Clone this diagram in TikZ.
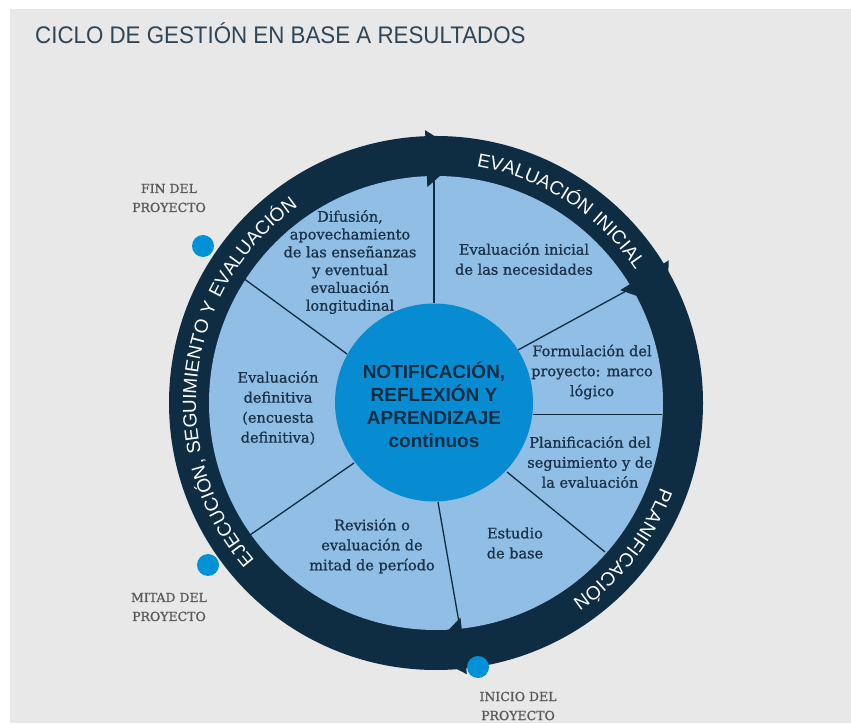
\documentclass[tikz,border=0pt]{standalone}
\usepackage{fontspec}
\usetikzlibrary{decorations.text}
\setmainfont{DejaVu Serif}
\newfontfamily\myserif{DejaVu Serif}[FakeBold=1.0]
\newfontfamily\mysans{Liberation Sans}
\newfontfamily\myringsans{Liberation Sans}[LetterSpace=4]
\newfontfamily\mytitlefont[FakeStretch=0.93]{Liberation Sans}
\newcommand\myringfont{\myringsans\fontsize{19}{19}\selectfont\color{white}}
\definecolor{bggray}{HTML}{E8E8E8}
\definecolor{navy}{HTML}{0E2D43}
\definecolor{lightblue}{HTML}{90BEE5}
\definecolor{midblue}{HTML}{078CD2}
\definecolor{dotblue}{HTML}{0091D6}
\definecolor{textnavy}{HTML}{1A3249}
\definecolor{labelgray}{HTML}{5A5A5A}
\definecolor{titlecol}{HTML}{2E4658}
\begin{document}
\begin{tikzpicture}[x=1pt,y=1pt,
  sector/.style={align=center, text=textnavy, font=\myserif\fontsize{14.5}{20}\selectfont, inner sep=0pt},
  milestone/.style={align=center, text=labelgray, font=\myserif\fontsize{12.5}{19}\selectfont, inner sep=0pt},
  spoke/.style={draw=navy, line width=1.3pt},
  dot/.style={circle, fill=dotblue, minimum size=22pt, inner sep=0pt},
  barb/.style={fill=navy}
]
\useasboundingbox (0,0) rectangle (851,723);
\fill[bggray] (10,0) rectangle (851,714);

\node[anchor=base west, inner sep=0pt, text=titlecol, font=\mytitlefont\fontsize{24}{24}\selectfont] (title) at (35,679) {CICLO DE GESTIÓN EN BASE A RESULTADOS};

% ring and disc
\coordinate (C) at (436,320);
\fill[navy] (C) circle (267);
\fill[lightblue] (C) circle (227);

% spokes
\coordinate (s1a) at (434,420); \coordinate (s1b) at (434,547);
\coordinate (s2a) at (518,373); \coordinate (s2b) at (628,433);
\coordinate (s3a) at (533,308.5); \coordinate (s3b) at (662,308.5);
\coordinate (s4a) at (507,251); \coordinate (s4b) at (605,171);
\coordinate (s5a) at (438,221); \coordinate (s5b) at (460,95);
\coordinate (s6a) at (354,260); \coordinate (s6b) at (250,188);
\coordinate (s7a) at (347,369); \coordinate (s7b) at (243,445);
\foreach \i in {1,...,7} { \draw[spoke] (s\i a) -- (s\i b); }

% arrow barbs and ring labels
\begin{scope}[shift={(C)}]
  \foreach \t in {92.3,31.5,-83.5} {
    \fill[barb] (\t:229) -- (\t:216) -- (\t-3.8:229) -- cycle;
    \fill[barb] (\t:265) -- (\t:273) -- (\t-2.7:265) -- cycle;
  }
  \path[decorate, decoration={text along path, text align=center,
      text={|\myringfont|EVALUACIÓN INICIAL}}]
      (83:240) arc[start angle=83, end angle=31, radius=240];
  \path[decorate, decoration={text along path, text align=center,
      text={|\myringfont|PLANIFICACIÓN}}]
      (-16:240) arc[start angle=-16, end angle=-60, radius=240];
  \path[decorate, decoration={text along path, text align=center,
      text={|\myringfont|EJECUCIÓN{,} SEGUIMIENTO Y EVALUACIÓN}}]
      (226:240) arc[start angle=226, end angle=120, radius=240];
\end{scope}

% centre
\fill[midblue] (434,320.5) circle (99);
\node[align=center, text=navy, font=\mysans\bfseries\fontsize{19}{23}\selectfont, inner sep=0pt] (core) at (434,318) {NOTIFICACIÓN,\\REFLEXIÓN Y\\APRENDIZAJE\\continuos};

% sector texts
\node[sector, font=\myserif\fontsize{14.5}{17.8}\selectfont] (difusion) at (350,461) {Difusión,\\apovechamiento\\de las enseñanzas\\y eventual\\evaluación\\longitudinal};
\node[sector] (evini) at (524,464) {Evaluación inicial\\de las necesidades};
\node[sector] (formul) at (592,351) {Formulación del\\proyecto: marco\\lógico};
\node[sector] (planif) at (590,261) {Planificación del\\seguimiento y de\\la evaluación};
\node[sector] (estudio) at (515,180) {Estudio\\de base};
\node[sector] (revision) at (372,177) {Revisión o\\evaluación de\\mitad de período};
\node[sector] (evdef) at (278,315) {Evaluación\\definitiva\\(encuesta\\definitiva)};

% milestones
\node[dot] (dfin) at (203,477) {};
\node[dot] (dmitad) at (208,158) {};
\node[dot] (dinicio) at (478,56) {};
\node[milestone] (lfin) at (169,525) {FIN DEL\\PROYECTO};
\node[milestone] (lmitad) at (169,116) {MITAD DEL\\PROYECTO};
\node[milestone] (linicio) at (518,17) {INICIO DEL\\PROYECTO};
\end{tikzpicture}
\end{document}
